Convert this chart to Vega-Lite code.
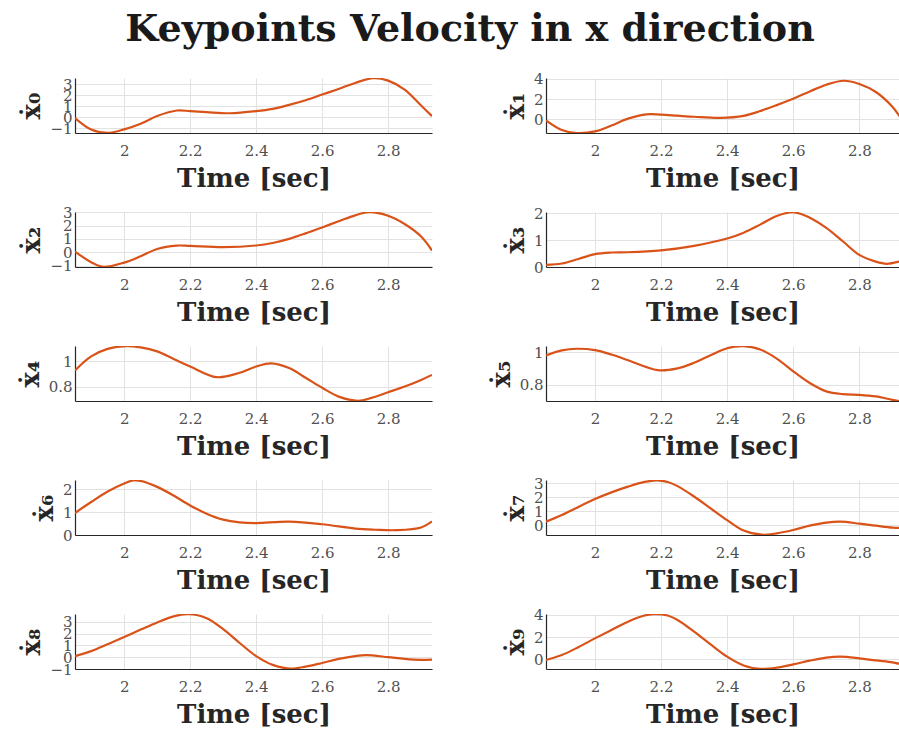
{
"$schema": "https://vega.github.io/schema/vega-lite/v6.json",
"padding": {"left": 17, "top": 10, "right": 0, "bottom": 0},
"background": "white",
"title": {"text": "Keypoints Velocity in x direction", "font": "DejaVu Serif", "fontSize": 38, "fontWeight": "bold", "color": "#1a1a1a", "anchor": "middle", "offset": 23, "dx": 12},
"data": {"values": [
{"k":0,"t":1.851,"v":-0.06},{"k":0,"t":1.9,"v":-1.1},{"k":0,"t":1.95,"v":-1.4},{"k":0,"t":2.0,"v":-1.08},{"k":0,"t":2.05,"v":-0.57},{"k":0,"t":2.1,"v":0.13},{"k":0,"t":2.16,"v":0.63},{"k":0,"t":2.2,"v":0.57},{"k":0,"t":2.25,"v":0.48},{"k":0,"t":2.32,"v":0.38},{"k":0,"t":2.4,"v":0.57},{"k":0,"t":2.45,"v":0.78},{"k":0,"t":2.5,"v":1.14},{"k":0,"t":2.55,"v":1.56},{"k":0,"t":2.6,"v":2.07},{"k":0,"t":2.65,"v":2.58},{"k":0,"t":2.7,"v":3.12},{"k":0,"t":2.755,"v":3.55},{"k":0,"t":2.8,"v":3.33},{"k":0,"t":2.85,"v":2.52},{"k":0,"t":2.9,"v":1.08},{"k":0,"t":2.933,"v":0.12},
{"k":1,"t":1.852,"v":-0.1},{"k":1,"t":1.9,"v":-1.05},{"k":1,"t":1.945,"v":-1.34},{"k":1,"t":2.0,"v":-1.18},{"k":1,"t":2.05,"v":-0.6},{"k":1,"t":2.1,"v":0.07},{"k":1,"t":2.156,"v":0.49},{"k":1,"t":2.2,"v":0.46},{"k":1,"t":2.25,"v":0.36},{"k":1,"t":2.3,"v":0.26},{"k":1,"t":2.38,"v":0.15},{"k":1,"t":2.45,"v":0.35},{"k":1,"t":2.5,"v":0.82},{"k":1,"t":2.55,"v":1.4},{"k":1,"t":2.6,"v":2.03},{"k":1,"t":2.65,"v":2.75},{"k":1,"t":2.7,"v":3.41},{"k":1,"t":2.752,"v":3.8},{"k":1,"t":2.8,"v":3.48},{"k":1,"t":2.85,"v":2.69},{"k":1,"t":2.9,"v":1.25},{"k":1,"t":2.92,"v":0.4},{"k":1,"t":2.933,"v":-0.1},
{"k":2,"t":1.851,"v":0.05},{"k":2,"t":1.9,"v":-0.75},{"k":2,"t":1.936,"v":-1.1},{"k":2,"t":2.0,"v":-0.78},{"k":2,"t":2.05,"v":-0.3},{"k":2,"t":2.1,"v":0.25},{"k":2,"t":2.159,"v":0.5},{"k":2,"t":2.2,"v":0.48},{"k":2,"t":2.3,"v":0.38},{"k":2,"t":2.4,"v":0.51},{"k":2,"t":2.45,"v":0.7},{"k":2,"t":2.5,"v":1.01},{"k":2,"t":2.55,"v":1.42},{"k":2,"t":2.6,"v":1.87},{"k":2,"t":2.65,"v":2.33},{"k":2,"t":2.7,"v":2.78},{"k":2,"t":2.744,"v":3.02},{"k":2,"t":2.8,"v":2.75},{"k":2,"t":2.85,"v":2.13},{"k":2,"t":2.9,"v":1.19},{"k":2,"t":2.933,"v":0.13},
{"k":3,"t":1.852,"v":0.08},{"k":3,"t":1.9,"v":0.13},{"k":3,"t":1.95,"v":0.3},{"k":3,"t":2.0,"v":0.48},{"k":3,"t":2.05,"v":0.54},{"k":3,"t":2.1,"v":0.55},{"k":3,"t":2.2,"v":0.62},{"k":3,"t":2.3,"v":0.79},{"k":3,"t":2.4,"v":1.06},{"k":3,"t":2.45,"v":1.28},{"k":3,"t":2.5,"v":1.58},{"k":3,"t":2.55,"v":1.9},{"k":3,"t":2.6,"v":2.04},{"k":3,"t":2.65,"v":1.84},{"k":3,"t":2.7,"v":1.46},{"k":3,"t":2.75,"v":0.96},{"k":3,"t":2.8,"v":0.45},{"k":3,"t":2.85,"v":0.2},{"k":3,"t":2.883,"v":0.12},{"k":3,"t":2.92,"v":0.2},{"k":3,"t":2.933,"v":0.25},
{"k":4,"t":1.851,"v":0.928},{"k":4,"t":1.9,"v":1.04},{"k":4,"t":1.95,"v":1.1},{"k":4,"t":2.007,"v":1.122},{"k":4,"t":2.05,"v":1.112},{"k":4,"t":2.1,"v":1.08},{"k":4,"t":2.15,"v":1.02},{"k":4,"t":2.2,"v":0.96},{"k":4,"t":2.28,"v":0.875},{"k":4,"t":2.35,"v":0.91},{"k":4,"t":2.4,"v":0.96},{"k":4,"t":2.446,"v":0.985},{"k":4,"t":2.5,"v":0.947},{"k":4,"t":2.55,"v":0.87},{"k":4,"t":2.6,"v":0.79},{"k":4,"t":2.65,"v":0.72},{"k":4,"t":2.709,"v":0.687},{"k":4,"t":2.75,"v":0.71},{"k":4,"t":2.8,"v":0.755},{"k":4,"t":2.85,"v":0.8},{"k":4,"t":2.9,"v":0.853},{"k":4,"t":2.933,"v":0.893},
{"k":5,"t":1.852,"v":0.979},{"k":5,"t":1.9,"v":1.01},{"k":5,"t":1.945,"v":1.02},{"k":5,"t":2.0,"v":1.012},{"k":5,"t":2.05,"v":0.985},{"k":5,"t":2.1,"v":0.95},{"k":5,"t":2.19,"v":0.889},{"k":5,"t":2.25,"v":0.9},{"k":5,"t":2.3,"v":0.934},{"k":5,"t":2.35,"v":0.98},{"k":5,"t":2.4,"v":1.023},{"k":5,"t":2.449,"v":1.036},{"k":5,"t":2.5,"v":1.016},{"k":5,"t":2.55,"v":0.96},{"k":5,"t":2.6,"v":0.882},{"k":5,"t":2.65,"v":0.81},{"k":5,"t":2.7,"v":0.759},{"k":5,"t":2.75,"v":0.742},{"k":5,"t":2.8,"v":0.738},{"k":5,"t":2.85,"v":0.728},{"k":5,"t":2.9,"v":0.707},{"k":5,"t":2.933,"v":0.695},
{"k":6,"t":1.851,"v":0.96},{"k":6,"t":1.9,"v":1.44},{"k":6,"t":1.95,"v":1.9},{"k":6,"t":2.0,"v":2.25},{"k":6,"t":2.027,"v":2.38},{"k":6,"t":2.05,"v":2.36},{"k":6,"t":2.1,"v":2.1},{"k":6,"t":2.15,"v":1.72},{"k":6,"t":2.2,"v":1.29},{"k":6,"t":2.25,"v":0.93},{"k":6,"t":2.3,"v":0.67},{"k":6,"t":2.35,"v":0.55},{"k":6,"t":2.4,"v":0.52},{"k":6,"t":2.5,"v":0.58},{"k":6,"t":2.6,"v":0.47},{"k":6,"t":2.7,"v":0.28},{"k":6,"t":2.76,"v":0.23},{"k":6,"t":2.825,"v":0.21},{"k":6,"t":2.9,"v":0.33},{"k":6,"t":2.933,"v":0.59},
{"k":7,"t":1.852,"v":0.24},{"k":7,"t":1.9,"v":0.72},{"k":7,"t":1.95,"v":1.3},{"k":7,"t":2.0,"v":1.87},{"k":7,"t":2.05,"v":2.35},{"k":7,"t":2.1,"v":2.76},{"k":7,"t":2.15,"v":3.1},{"k":7,"t":2.187,"v":3.22},{"k":7,"t":2.22,"v":3.1},{"k":7,"t":2.25,"v":2.8},{"k":7,"t":2.3,"v":2.05},{"k":7,"t":2.35,"v":1.2},{"k":7,"t":2.4,"v":0.35},{"k":7,"t":2.45,"v":-0.4},{"k":7,"t":2.505,"v":-0.7},{"k":7,"t":2.55,"v":-0.6},{"k":7,"t":2.6,"v":-0.36},{"k":7,"t":2.65,"v":-0.05},{"k":7,"t":2.7,"v":0.17},{"k":7,"t":2.742,"v":0.24},{"k":7,"t":2.8,"v":0.1},{"k":7,"t":2.85,"v":-0.05},{"k":7,"t":2.9,"v":-0.19},{"k":7,"t":2.933,"v":-0.2},
{"k":8,"t":1.851,"v":0.09},{"k":8,"t":1.9,"v":0.51},{"k":8,"t":1.95,"v":1.1},{"k":8,"t":2.0,"v":1.71},{"k":8,"t":2.05,"v":2.33},{"k":8,"t":2.1,"v":2.94},{"k":8,"t":2.15,"v":3.45},{"k":8,"t":2.194,"v":3.63},{"k":8,"t":2.25,"v":3.3},{"k":8,"t":2.3,"v":2.37},{"k":8,"t":2.35,"v":1.2},{"k":8,"t":2.4,"v":0.09},{"k":8,"t":2.45,"v":-0.65},{"k":8,"t":2.502,"v":-0.97},{"k":8,"t":2.55,"v":-0.8},{"k":8,"t":2.6,"v":-0.49},{"k":8,"t":2.65,"v":-0.15},{"k":8,"t":2.7,"v":0.09},{"k":8,"t":2.734,"v":0.17},{"k":8,"t":2.8,"v":0.0},{"k":8,"t":2.85,"v":-0.15},{"k":8,"t":2.9,"v":-0.23},{"k":8,"t":2.933,"v":-0.2},
{"k":9,"t":1.852,"v":-0.06},{"k":9,"t":1.9,"v":0.39},{"k":9,"t":1.95,"v":1.1},{"k":9,"t":2.0,"v":1.89},{"k":9,"t":2.05,"v":2.65},{"k":9,"t":2.1,"v":3.4},{"k":9,"t":2.15,"v":3.95},{"k":9,"t":2.177,"v":4.07},{"k":9,"t":2.22,"v":3.95},{"k":9,"t":2.25,"v":3.55},{"k":9,"t":2.3,"v":2.5},{"k":9,"t":2.35,"v":1.35},{"k":9,"t":2.4,"v":0.24},{"k":9,"t":2.45,"v":-0.55},{"k":9,"t":2.5,"v":-0.86},{"k":9,"t":2.55,"v":-0.75},{"k":9,"t":2.6,"v":-0.45},{"k":9,"t":2.65,"v":-0.12},{"k":9,"t":2.7,"v":0.15},{"k":9,"t":2.742,"v":0.24},{"k":9,"t":2.8,"v":0.09},{"k":9,"t":2.85,"v":-0.1},{"k":9,"t":2.9,"v":-0.27},{"k":9,"t":2.92,"v":-0.39},{"k":9,"t":2.933,"v":-0.42}
]},
"columns": 2,
"bounds": "flush",
"spacing": {"row": 79, "column": 114},
"concat": [
{"width": 357, "height": 55, "transform": [{"filter": "datum.k == 0"}], "mark": {"type": "line", "clip": true, "interpolate": "catmull-rom"},
 "encoding": {"x": {"field": "t", "type": "quantitative", "scale": {"domain": [1.851, 2.933], "nice": false, "zero": false}, "axis": {"values": [2, 2.2, 2.4, 2.6, 2.8], "title": "Time [sec]"}},
 "y": {"field": "v", "type": "quantitative", "scale": {"domain": [-1.41, 3.57], "nice": false, "zero": false}, "axis": {"values": [-1, 0, 1, 2, 3], "title": "ẋ₀"}}}},
{"width": 353, "height": 55, "transform": [{"filter": "datum.k == 1"}], "mark": {"type": "line", "clip": true, "interpolate": "catmull-rom"},
 "encoding": {"x": {"field": "t", "type": "quantitative", "scale": {"domain": [1.852, 2.92], "nice": false, "zero": false}, "axis": {"values": [2, 2.2, 2.4, 2.6, 2.8], "title": "Time [sec]"}},
 "y": {"field": "v", "type": "quantitative", "scale": {"domain": [-1.34, 4.07], "nice": false, "zero": false}, "axis": {"values": [0, 2, 4], "title": "ẋ₁"}}}},
{"width": 357, "height": 55, "transform": [{"filter": "datum.k == 2"}], "mark": {"type": "line", "clip": true, "interpolate": "catmull-rom"},
 "encoding": {"x": {"field": "t", "type": "quantitative", "scale": {"domain": [1.851, 2.933], "nice": false, "zero": false}, "axis": {"values": [2, 2.2, 2.4, 2.6, 2.8], "title": "Time [sec]"}},
 "y": {"field": "v", "type": "quantitative", "scale": {"domain": [-1.11, 3.03], "nice": false, "zero": false}, "axis": {"values": [-1, 0, 1, 2, 3], "title": "ẋ₂"}}}},
{"width": 353, "height": 55, "transform": [{"filter": "datum.k == 3"}], "mark": {"type": "line", "clip": true, "interpolate": "catmull-rom"},
 "encoding": {"x": {"field": "t", "type": "quantitative", "scale": {"domain": [1.852, 2.92], "nice": false, "zero": false}, "axis": {"values": [2, 2.2, 2.4, 2.6, 2.8], "title": "Time [sec]"}},
 "y": {"field": "v", "type": "quantitative", "scale": {"domain": [0, 2.05], "nice": false, "zero": false}, "axis": {"values": [0, 1, 2], "title": "ẋ₃"}}}},
{"width": 357, "height": 55, "transform": [{"filter": "datum.k == 4"}], "mark": {"type": "line", "clip": true, "interpolate": "catmull-rom"},
 "encoding": {"x": {"field": "t", "type": "quantitative", "scale": {"domain": [1.851, 2.933], "nice": false, "zero": false}, "axis": {"values": [2, 2.2, 2.4, 2.6, 2.8], "title": "Time [sec]"}},
 "y": {"field": "v", "type": "quantitative", "scale": {"domain": [0.685, 1.123], "nice": false, "zero": false}, "axis": {"values": [0.8, 1], "title": "ẋ₄"}}}},
{"width": 353, "height": 55, "transform": [{"filter": "datum.k == 5"}], "mark": {"type": "line", "clip": true, "interpolate": "catmull-rom"},
 "encoding": {"x": {"field": "t", "type": "quantitative", "scale": {"domain": [1.852, 2.92], "nice": false, "zero": false}, "axis": {"values": [2, 2.2, 2.4, 2.6, 2.8], "title": "Time [sec]"}},
 "y": {"field": "v", "type": "quantitative", "scale": {"domain": [0.70, 1.037], "nice": false, "zero": false}, "axis": {"values": [0.8, 1], "title": "ẋ₅"}}}},
{"width": 357, "height": 55, "transform": [{"filter": "datum.k == 6"}], "mark": {"type": "line", "clip": true, "interpolate": "catmull-rom"},
 "encoding": {"x": {"field": "t", "type": "quantitative", "scale": {"domain": [1.851, 2.933], "nice": false, "zero": false}, "axis": {"values": [2, 2.2, 2.4, 2.6, 2.8], "title": "Time [sec]"}},
 "y": {"field": "v", "type": "quantitative", "scale": {"domain": [0, 2.4], "nice": false, "zero": false}, "axis": {"values": [0, 1, 2], "title": "ẋ₆"}}}},
{"width": 353, "height": 55, "transform": [{"filter": "datum.k == 7"}], "mark": {"type": "line", "clip": true, "interpolate": "catmull-rom"},
 "encoding": {"x": {"field": "t", "type": "quantitative", "scale": {"domain": [1.852, 2.92], "nice": false, "zero": false}, "axis": {"values": [2, 2.2, 2.4, 2.6, 2.8], "title": "Time [sec]"}},
 "y": {"field": "v", "type": "quantitative", "scale": {"domain": [-0.72, 3.24], "nice": false, "zero": false}, "axis": {"values": [0, 1, 2, 3], "title": "ẋ₇"}}}},
{"width": 357, "height": 55, "transform": [{"filter": "datum.k == 8"}], "mark": {"type": "line", "clip": true, "interpolate": "catmull-rom"},
 "encoding": {"x": {"field": "t", "type": "quantitative", "scale": {"domain": [1.851, 2.933], "nice": false, "zero": false}, "axis": {"values": [2, 2.2, 2.4, 2.6, 2.8], "title": "Time [sec]"}},
 "y": {"field": "v", "type": "quantitative", "scale": {"domain": [-1.0, 3.65], "nice": false, "zero": false}, "axis": {"values": [-1, 0, 1, 2, 3], "title": "ẋ₈"}}}},
{"width": 353, "height": 55, "transform": [{"filter": "datum.k == 9"}], "mark": {"type": "line", "clip": true, "interpolate": "catmull-rom"},
 "encoding": {"x": {"field": "t", "type": "quantitative", "scale": {"domain": [1.852, 2.92], "nice": false, "zero": false}, "axis": {"values": [2, 2.2, 2.4, 2.6, 2.8], "title": "Time [sec]"}},
 "y": {"field": "v", "type": "quantitative", "scale": {"domain": [-0.87, 4.09], "nice": false, "zero": false}, "axis": {"values": [0, 2, 4], "title": "ẋ₉"}}}}
],
"config": {
 "view": {"stroke": null},
 "line": {"color": "#D95319", "strokeWidth": 2.2},
 "axis": {"grid": true, "gridColor": "#e2e2e2", "gridWidth": 1, "domainColor": "#262626", "domainWidth": 1.2, "ticks": false, "labelFont": "DejaVu Serif", "labelFontSize": 15, "labelColor": "#505050", "labelOverlap": false, "labelFlush": false, "format": "~g", "titleFont": "DejaVu Serif", "titleFontSize": 26, "titleFontWeight": "bold", "titleColor": "#262626"},
 "axisX": {"labelPadding": 10, "titlePadding": 7},
 "axisY": {"labelPadding": 3, "titlePadding": 5}
}
}
